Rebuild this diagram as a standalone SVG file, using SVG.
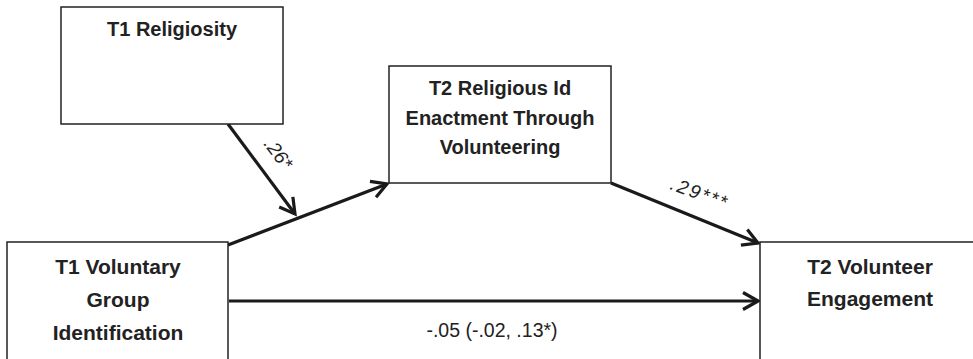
<svg xmlns="http://www.w3.org/2000/svg" width="973" height="359" viewBox="0 0 973 359">
<style>
.box{fill:#fff;stroke:#222;stroke-width:1.5}
.lbl{font-family:"Liberation Sans",Arial,sans-serif;font-weight:bold;fill:#222;text-anchor:middle}
.t20{font-size:20px}
.t21{font-size:21px}
.edge{stroke:#1a1a1a;stroke-width:3.2;fill:none;marker-end:url(#arr)}
.coef{font-family:"Liberation Sans",Arial,sans-serif;font-style:italic;font-size:19px;fill:#222}
.coefr{font-family:"Liberation Sans",Arial,sans-serif;font-size:19.5px;fill:#222;text-anchor:middle}
</style>
<defs>
<marker id="arr" markerUnits="userSpaceOnUse" markerWidth="26" markerHeight="26" viewBox="0 0 26 26" refX="23" refY="13" orient="auto">
<path d="M8,4.5 L23,13 L8,21.5" fill="none" stroke="#1a1a1a" stroke-width="3.2" stroke-linejoin="miter"/>
</marker>
</defs>
<rect width="973" height="359" fill="#fff"/>
<g id="connectors">
<line class="edge" x1="228" y1="124" x2="295" y2="214"/>
<line class="edge" x1="228" y1="245" x2="387" y2="184"/>
<line class="edge" x1="611" y1="183" x2="758" y2="243"/>
<line class="edge" x1="229" y1="301" x2="758" y2="301"/>
<text class="coef" transform="translate(263,144) rotate(53)">.26*</text>
<text class="coef" letter-spacing="2" transform="translate(669,189) rotate(20)">.29***</text>
<text class="coefr" x="492" y="337">-.05 (-.02, .13*)</text>
</g>
<g id="t1-religiosity">
<rect class="box" x="61" y="7" width="222" height="117"/>
<text class="lbl t20" x="172" y="36">T1 Religiosity</text>
</g>
<g id="t2-religious-id">
<rect class="box" x="389" y="66" width="222" height="117"/>
<text class="lbl t20" x="500" y="95">T2 Religious Id</text>
<text class="lbl t20" x="500" y="125">Enactment Through</text>
<text class="lbl t20" x="500" y="154">Volunteering</text>
</g>
<g id="t1-voluntary">
<rect class="box" x="7" y="242" width="221" height="130"/>
<text class="lbl t21" x="118" y="274">T1 Voluntary</text>
<text class="lbl t21" x="118" y="307">Group</text>
<text class="lbl t21" x="118" y="340">Identification</text>
</g>
<g id="t2-volunteer">
<rect class="box" x="760" y="242" width="230" height="130"/>
<text class="lbl t21" x="870" y="274">T2 Volunteer</text>
<text class="lbl t21" x="870" y="306">Engagement</text>
</g>
</svg>
